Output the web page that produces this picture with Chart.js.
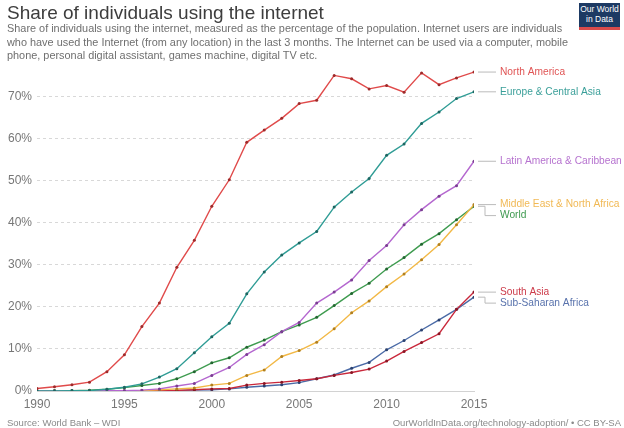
<!DOCTYPE html>
<html><head><meta charset="utf-8">
<script src="https://cdn.jsdelivr.net/npm/chart.js@4/dist/chart.umd.min.js"></script>
<style>
body{margin:0;background:#fff;font-family:"Liberation Sans",Arial,sans-serif;}
#wrap{position:relative;width:624px;height:428px;overflow:hidden;background:#fff;}
#title{position:absolute;left:7px;top:2px;font-size:19px;color:#3d3d3d;white-space:nowrap;}
#sub{position:absolute;left:7px;top:22px;font-size:10.9px;line-height:13.5px;color:#6f6f6f;white-space:nowrap;}
#logo{position:absolute;left:579px;top:3px;width:41px;height:23px;background:#1d3a63;color:#fff;font-size:8.5px;line-height:10px;text-align:center;border-bottom:3px solid #d94b4b;padding-top:1px;box-sizing:content-box;}
.foot{position:absolute;top:417px;font-size:9.5px;color:#8a8a8a;white-space:nowrap;}
#src{left:7px;}
#url{right:3px;}
canvas{position:absolute;left:0;top:0;}
</style></head>
<body>
<div id="wrap">
<canvas id="c" width="624" height="428"></canvas>
<div id="title">Share of individuals using the internet</div>
<div id="sub">Share of individuals using the internet, measured as the percentage of the population. Internet users are individuals<br>who have used the Internet (from any location) in the last 3 months. The Internet can be used via a computer, mobile<br>phone, personal digital assistant, games machine, digital TV etc.</div>
<div id="logo">Our World<br>in Data</div>
<div class="foot" id="src">Source: World Bank – WDI</div>
<div class="foot" id="url">OurWorldInData.org/technology-adoption/ • CC BY-SA</div>
</div>
<script>
const years = [1990,1991,1992,1993,1994,1995,1996,1997,1998,1999,2000,2001,2002,2003,2004,2005,2006,2007,2008,2009,2010,2011,2012,2013,2014,2015];
const northAmerica = [0.6,1.0,1.5,2.1,4.6,8.6,15.3,20.9,29.4,35.8,43.9,50.2,59.1,62.0,64.8,68.3,69.1,75.0,74.2,71.8,72.6,71.0,75.6,72.8,74.4,75.8];
const europeCentralAsia = [0.0,0.0,0.1,0.1,0.4,0.9,1.7,3.3,5.3,9.1,12.9,16.1,23.1,28.3,32.3,35.2,37.9,43.7,47.3,50.5,56.0,58.7,63.6,66.3,69.5,71.1];
const latinAmerica = [0,0,0,0,0.05,0.1,0.2,0.5,1.2,1.8,3.7,5.6,8.7,11.0,14.1,16.3,20.9,23.5,26.4,31.0,34.6,39.5,43.1,46.3,48.8,54.6];
const middleEast = [0,0,0,0,0,0.05,0.1,0.3,0.5,0.7,1.4,1.8,3.7,5.0,8.2,9.6,11.6,14.8,18.6,21.4,24.8,27.8,31.2,34.8,39.5,44.3];
const world = [0.05,0.1,0.1,0.2,0.4,0.8,1.3,1.8,2.9,4.6,6.7,7.9,10.4,12.1,14.1,15.7,17.5,20.3,23.2,25.6,29.0,31.7,34.9,37.4,40.7,43.9];
const southAsia = [0,0,0,0,0,0.02,0.05,0.1,0.15,0.3,0.5,0.6,1.4,1.8,2.1,2.5,2.9,3.7,4.4,5.2,7.1,9.4,11.5,13.6,19.4,23.5];
const subSaharanAfrica = [0,0,0,0,0,0.02,0.05,0.1,0.15,0.2,0.3,0.5,0.9,1.2,1.5,2.0,2.9,3.8,5.4,6.8,9.8,12.0,14.5,16.9,19.4,22.3];
const seriesNames = ["North America","Europe & Central Asia","Latin America & Caribbean","Middle East & North Africa","World","South Asia","Sub-Saharan Africa"];
const yTickValues = [0,10,20,30,40,50,60,70];
const xTickValues = [1990,1995,2000,2005,2010,2015];

const seriesValues = [northAmerica, europeCentralAsia, latinAmerica, middleEast, world, southAsia, subSaharanAfrica];
const lineColors = ["#e04a4a","#2f9c95","#b467cf","#f2b845","#3e9b4f","#c9283b","#4a6aa6"];
const pointColors = ["#9e2a2a","#1e6661","#7a3d92","#b07f1f","#236631","#8a1624","#2b4270"];
const labelColors = ["#e05555","#3a9f99","#b673cf","#f1b955","#3f9a50","#cc3b4a","#5872ac"];

const datasets = seriesValues.map((vals, i) => ({
  label: seriesNames[i],
  data: vals.map((v, j) => ({x: years[j], y: v})),
  borderColor: lineColors[i],
  backgroundColor: pointColors[i],
  pointBackgroundColor: pointColors[i],
  pointBorderWidth: 0,
  pointRadius: 1.5,
  borderWidth: 1.4,
  tension: 0,
  order: i
}));

const endLabels = {
  id: 'endLabels',
  afterDatasetsDraw(chart) {
    const ctx = chart.ctx;
    const items = chart.data.datasets.map((ds, i) => {
      const meta = chart.getDatasetMeta(i);
      const pt = meta.data[meta.data.length - 1];
      return {i, px: pt.x, py: pt.y, ly: pt.y};
    });
    items.sort((a, b) => a.py - b.py);
    const gap = 11;
    for (let k = 1; k < items.length; k++) {
      if (items[k].ly < items[k-1].ly + gap) items[k].ly = items[k-1].ly + gap;
    }
    ctx.save();
    ctx.font = '10.2px "Liberation Sans", Arial, sans-serif';
    ctx.textBaseline = 'middle';
    items.forEach(it => {
      const x0 = it.px + 4, xm = 485, x1 = 496, tx = 500;
      ctx.strokeStyle = '#bbbbbb';
      ctx.lineWidth = 1;
      ctx.beginPath();
      if (Math.abs(it.ly - it.py) < 1) {
        ctx.moveTo(x0, it.py); ctx.lineTo(x1, it.py);
      } else {
        ctx.moveTo(x0, it.py); ctx.lineTo(xm, it.py); ctx.lineTo(xm, it.ly); ctx.lineTo(x1, it.ly);
      }
      ctx.stroke();
      ctx.fillStyle = labelColors[it.i];
      ctx.fillText(chart.data.datasets[it.i].label, tx, it.ly);
    });
    ctx.restore();
  }
};

new Chart(document.getElementById('c'), {
  type: 'line',
  data: {datasets},
  plugins: [endLabels],
  options: {
    responsive: false,
    animation: false,
    layout: {padding: {left: 0, right: 150, top: 67, bottom: 0}},
    plugins: {legend: {display: false}, tooltip: {enabled: false}, title: {display: false}},
    scales: {
      x: {
        type: 'linear', min: 1990, max: 2015,
        afterBuildTicks: s => { s.ticks = xTickValues.map(v => ({value: v})); },
        afterFit: s => { s.height = 37; },
        grid: {display: false, drawTicks: false},
        border: {display: true, color: '#d2d2d2', width: 1},
        ticks: {padding: 6, color: '#777', font: {size: 12, family: '"Liberation Sans", Arial, sans-serif'}, maxRotation: 0, callback: v => String(v)}
      },
      y: {
        min: 0, max: 77,
        afterBuildTicks: s => { s.ticks = yTickValues.map(v => ({value: v})); },
        afterFit: s => { s.width = 37; },
        grid: {color: '#d8d8d8', lineWidth: 1, drawTicks: false},
        border: {display: false, dash: [3, 3]},
        ticks: {padding: 5, color: '#777', font: {size: 12, family: '"Liberation Sans", Arial, sans-serif'}, callback: v => v + '%'}
      }
    }
  }
});
</script>
</body></html>
